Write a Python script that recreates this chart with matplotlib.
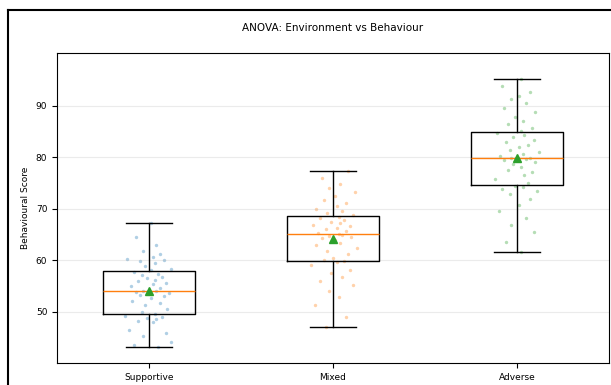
import matplotlib
matplotlib.use("Agg")
import matplotlib.pyplot as plt
from matplotlib.lines import Line2D

# group names and scores
groups = ["Supportive", "Mixed", "Adverse"]
point_colors = ["tab:blue", "tab:orange", "tab:green"]
y_ticks = [50, 60, 70, 80, 90]

supportive = [43.2, 43.6, 44.0, 45.2, 45.9, 46.5, 47.9, 48.2, 48.5, 48.8,
              48.9, 49.1, 49.5, 50.0, 50.6, 51.2, 51.7, 52.1, 52.6, 53.0,
              53.3, 53.6, 53.8, 54.0, 54.0, 54.1, 54.5, 55.0, 55.3, 55.6,
              55.9, 56.2, 56.5, 56.8, 57.1, 57.4, 57.8, 58.0, 58.3, 58.9,
              59.5, 59.8, 60.0, 60.3, 60.7, 61.2, 61.8, 63.0, 64.5, 67.2]
mixed = [47.1, 49.0, 51.2, 52.8, 54.0, 55.1, 56.0, 56.8, 57.5, 58.1,
         59.0, 59.6, 59.9, 60.0, 60.5, 61.2, 61.8, 62.3, 62.9, 63.4,
         63.9, 64.3, 64.6, 64.8, 64.9, 65.1, 65.3, 65.6, 66.0, 66.3,
         66.6, 66.9, 67.2, 67.5, 67.9, 68.2, 68.4, 68.7, 69.1, 69.6,
         70.0, 70.5, 71.1, 71.8, 72.5, 73.2, 74.0, 74.8, 75.9, 77.3]
adverse = [61.6, 63.5, 65.4, 66.9, 68.2, 69.5, 70.8, 71.9, 72.8, 73.4,
           73.9, 74.2, 74.4, 75.0, 75.8, 76.5, 77.1, 77.6, 78.2, 78.7,
           79.1, 79.4, 79.6, 79.7, 79.8, 79.9, 80.2, 80.6, 81.0, 81.5,
           82.0, 82.5, 83.0, 83.4, 83.9, 84.4, 84.8, 85.1, 85.7, 86.4,
           87.1, 87.9, 88.8, 89.7, 90.5, 91.3, 92.0, 92.8, 93.9, 95.2]

# horizontal jitter of the dots around each box centre
jit_sup = [0.05, -0.08, 0.12, -0.03, 0.09, -0.11, 0.02, -0.06, 0.04, -0.01,
           0.07, -0.13, 0.03, -0.04, 0.10, -0.02, 0.06, -0.09, 0.01, 0.08,
           -0.05, 0.11, -0.07, 0.00, 0.04, -0.03, 0.06, -0.10, 0.02, 0.09,
           -0.06, 0.03, -0.01, 0.07, -0.04, 0.05, -0.08, 0.01, 0.12, -0.02,
           0.03, -0.05, 0.08, -0.12, 0.02, 0.06, -0.03, 0.04, -0.07, 0.01]
jit_mix = [-0.04, 0.07, -0.10, 0.03, -0.02, 0.11, -0.07, 0.05, -0.01, 0.09,
           -0.12, 0.02, 0.06, -0.05, 0.00, 0.08, -0.03, 0.13, -0.09, 0.04,
           0.01, -0.06, 0.10, -0.02, 0.05, 0.03, -0.08, 0.07, -0.04, 0.02,
           0.09, -0.11, 0.04, -0.01, 0.06, -0.07, 0.03, 0.11, -0.03, 0.05,
           -0.09, 0.02, 0.07, -0.05, 0.01, 0.12, -0.02, 0.04, -0.06, 0.08]
jit_adv = [0.02, -0.06, 0.09, -0.03, 0.05, -0.10, 0.01, 0.07, -0.04, 0.11,
           -0.08, 0.03, -0.01, 0.06, -0.12, 0.04, 0.08, -0.05, 0.02, -0.02,
           0.10, -0.07, 0.05, 0.00, -0.03, 0.07, -0.09, 0.03, 0.12, -0.04,
           0.01, 0.06, -0.06, 0.09, -0.02, 0.04, -0.11, 0.02, 0.08, -0.05,
           0.03, -0.01, 0.10, -0.07, 0.05, -0.03, 0.01, 0.07, -0.08, 0.02]

data = [supportive, mixed, adverse]
jitters = [jit_sup, jit_mix, jit_adv]

fig = plt.figure(figsize=(6.11, 3.85), dpi=100)
ax = fig.add_axes([0.0933, 0.0571, 0.9034, 0.8052])

ax.boxplot(data, showmeans=True, whis=(0, 100), widths=0.5)

for i, (vals, jit) in enumerate(zip(data, jitters)):
    xs = [i + 1 + j for j in jit]
    ax.scatter(xs, vals, s=6, color=point_colors[i], alpha=0.35, linewidths=0)

ax.set_xticks([1, 2, 3])
ax.set_xticklabels(groups, fontsize=6.5)
ax.set_yticks(y_ticks)
ax.tick_params(axis="y", labelsize=6.5)
ax.set_ylim(40, 100.3)
ax.set_xlim(0.5, 3.5)
ax.yaxis.grid(True, alpha=0.25)
ax.set_ylabel("Behavioural Score", fontsize=6.5)
ax.set_title("ANOVA: Environment vs Behaviour", fontsize=7.5, pad=16)

# dark frame edge on the top and left of the screenshot
fig.add_artist(Line2D([8 / 611, 1], [1 - 10 / 385, 1 - 10 / 385], color="black", lw=1.5))
fig.add_artist(Line2D([8 / 611, 8 / 611], [0, 1 - 10 / 385], color="black", lw=1.5))

fig.savefig("out.png", dpi=100)
